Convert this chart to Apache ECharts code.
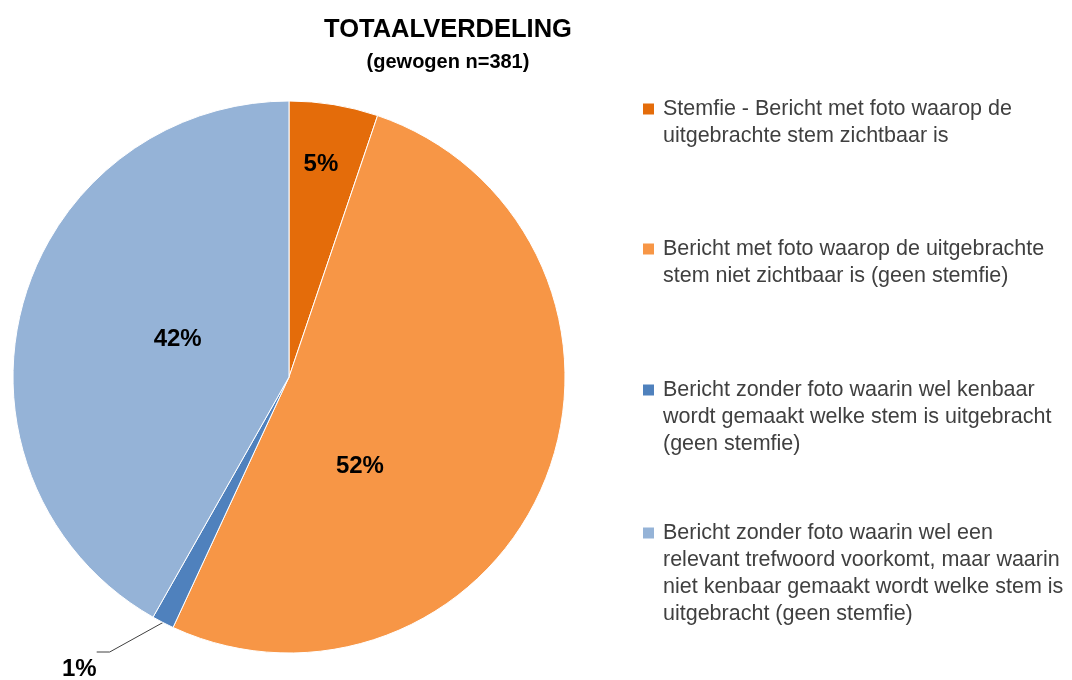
<!DOCTYPE html>
<html>
<head>
<meta charset="utf-8">
<script src="https://cdn.jsdelivr.net/npm/echarts@6/dist/echarts.min.js"></script>
<style>
  html, body { margin: 0; padding: 0; background: #fff; }
</style>
</head>
<body>
<div id="chart" style="width:1072px;height:680px;"></div>
<script>
// categorieen (met regeleinden zoals in de legenda)
var categories = [
  "Stemfie - Bericht met foto waarop de\nuitgebrachte stem zichtbaar is",
  "Bericht met foto waarop de uitgebrachte\nstem niet zichtbaar is (geen stemfie)",
  "Bericht zonder foto waarin wel kenbaar\nwordt gemaakt welke stem is uitgebracht\n(geen stemfie)",
  "Bericht zonder foto waarin wel een\nrelevant trefwoord voorkomt, maar waarin\nniet kenbaar gemaakt wordt welke stem is\nuitgebracht (geen stemfie)"
];
var values = [5.2, 51.7, 1.3, 41.8];
var shownLabels = ["5%", "52%", "1%", "42%"];
var colors = ["#E46C0A", "#F79646", "#4F81BD", "#95B3D7"];

var chart = echarts.init(document.getElementById("chart"));

var font = "'Liberation Sans', Arial, sans-serif";
var legendTops = [98, 238, 379, 522];
var labelShift = [[9, -74], [-60, 37], null, [25, -2]];

var rich = {
  gap: { width: 9 },
  ind: { width: 20 },
  t: { fontSize: 21.5, color: "#404040", lineHeight: 27, fontFamily: font }
};
colors.forEach(function (c, i) {
  rich["sq" + i] = { width: 11, height: 11, backgroundColor: c };
});

var legends = categories.map(function (name, i) {
  return {
    orient: "vertical",
    left: 638,
    top: legendTops[i],
    padding: 0,
    icon: "none",
    itemWidth: 0,
    selectedMode: false,
    data: [name],
    formatter: function (n) {
      var lines = n.split("\n");
      return lines.map(function (l, k) {
        return (k === 0 ? "{sq" + i + "|}{gap|}" : "{ind|}") + "{t|" + l + "}";
      }).join("\n");
    },
    textStyle: { rich: rich }
  };
});

var seriesData = categories.map(function (name, i) {
  var item = { name: name, value: values[i], itemStyle: { color: colors[i] } };
  if (i === 2) {
    // buitenlabel met verbindingslijn
    item.label = { position: "outside" };
    item.labelLine = { show: true };
  }
  return item;
});

var pctStyle = { fontFamily: font, fontSize: 24, fontWeight: "bold", color: "#000" };

var option = {
  animation: false,
  title: {
    text: "TOTAALVERDELING",
    subtext: "(gewogen n=381)",
    left: 443,
    top: 12,
    textAlign: "center",
    itemGap: 9,
    textStyle: { fontFamily: font, fontSize: 25.5, fontWeight: "bold", color: "#000" },
    subtextStyle: { fontFamily: font, fontSize: 20, fontWeight: "bold", color: "#000" }
  },
  legend: legends,
  series: [
    {
      type: "pie",
      center: [289, 377],
      radius: 276,
      startAngle: 90,
      clockwise: true,
      data: seriesData,
      itemStyle: { borderColor: "#fff", borderWidth: 1 },
      label: {
        show: true,
        position: "inside",
        formatter: function (p) {
          if (p.dataIndex === 2) return "{e|}\n{v|" + shownLabels[2] + "}";
          return shownLabels[p.dataIndex];
        },
        fontFamily: font,
        fontSize: 24,
        fontWeight: "bold",
        color: "#000",
        rich: {
          e: { width: 19, height: 44 },
          v: Object.assign({ width: 19, align: "left" }, pctStyle)
        }
      },
      labelLine: { show: false, length: 30, length2: 13, lineStyle: { color: "#404040", width: 1 } },
      labelLayout: function (p) {
        if (p.dataIndex === 2) {
          return { x: 62, y: 647, align: "left", verticalAlign: "middle" };
        }
        var s = labelShift[p.dataIndex];
        return { dx: s[0], dy: s[1] };
      },
      emphasis: { disabled: true }
    }
  ]
};
chart.setOption(option);
window.addEventListener("resize", function () {
  chart.resize();
});
</script>
</body>
</html>
